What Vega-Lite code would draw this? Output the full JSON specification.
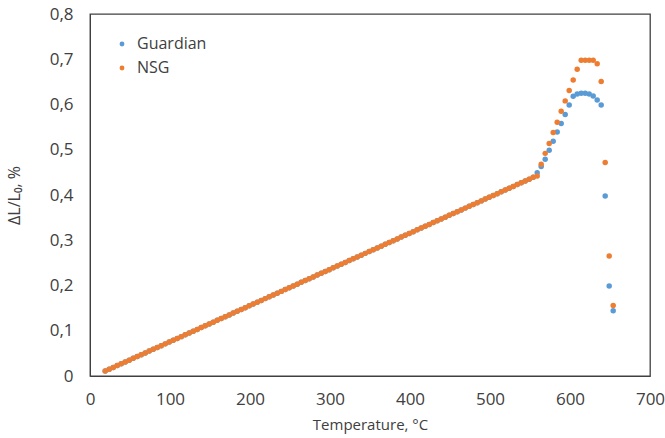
{
  "$schema": "https://vega.github.io/schema/vega-lite/v6.json",
  "autosize": "none",
  "width": 560,
  "height": 362,
  "padding": {"left": 90, "top": 14, "right": 15, "bottom": 62},
  "background": "white",
  "config": {
    "font": "Open Sans",
    "view": {"stroke": "#404040", "strokeWidth": 1.3},
    "axis": {"labelFont": "Open Sans", "titleFont": "Open Sans", "labelColor": "#404040", "titleColor": "#404040", "labelFontSize": 17, "titleFontSize": 15, "titleFontWeight": "normal", "grid": false, "ticks": false, "domainColor": "#404040", "labelFlush": false, "labelOverlap": false},
    "legend": {"labelFont": "Open Sans", "labelFontSize": 16, "labelColor": "#404040"}
  },
  "data": {"values": [
    {"T":19,"G":0.011,"N":0.011},{"T":24,"G":0.015,"N":0.015},{"T":29,"G":0.019,"N":0.019},{"T":34,"G":0.023,"N":0.023},{"T":39,"G":0.027,"N":0.027},
    {"T":44,"G":0.031,"N":0.031},{"T":49,"G":0.035,"N":0.035},{"T":54,"G":0.039,"N":0.039},{"T":59,"G":0.043,"N":0.043},{"T":64,"G":0.047,"N":0.047},
    {"T":69,"G":0.051,"N":0.051},{"T":74,"G":0.055,"N":0.055},{"T":79,"G":0.059,"N":0.059},{"T":84,"G":0.063,"N":0.063},{"T":89,"G":0.067,"N":0.067},
    {"T":94,"G":0.071,"N":0.071},{"T":99,"G":0.075,"N":0.075},{"T":104,"G":0.079,"N":0.079},{"T":109,"G":0.083,"N":0.083},{"T":114,"G":0.087,"N":0.087},
    {"T":119,"G":0.091,"N":0.091},{"T":124,"G":0.095,"N":0.095},{"T":129,"G":0.099,"N":0.099},{"T":134,"G":0.103,"N":0.103},{"T":139,"G":0.107,"N":0.107},
    {"T":144,"G":0.111,"N":0.111},{"T":149,"G":0.115,"N":0.115},{"T":154,"G":0.119,"N":0.119},{"T":159,"G":0.123,"N":0.123},{"T":164,"G":0.127,"N":0.127},
    {"T":169,"G":0.131,"N":0.131},{"T":174,"G":0.135,"N":0.135},{"T":179,"G":0.139,"N":0.139},{"T":184,"G":0.143,"N":0.143},{"T":189,"G":0.147,"N":0.147},
    {"T":194,"G":0.151,"N":0.151},{"T":199,"G":0.155,"N":0.155},{"T":204,"G":0.159,"N":0.159},{"T":209,"G":0.163,"N":0.163},{"T":214,"G":0.167,"N":0.167},
    {"T":219,"G":0.171,"N":0.171},{"T":224,"G":0.175,"N":0.175},{"T":229,"G":0.179,"N":0.179},{"T":234,"G":0.183,"N":0.183},{"T":239,"G":0.187,"N":0.187},
    {"T":244,"G":0.191,"N":0.191},{"T":249,"G":0.195,"N":0.195},{"T":254,"G":0.199,"N":0.199},{"T":259,"G":0.203,"N":0.203},{"T":264,"G":0.207,"N":0.207},
    {"T":269,"G":0.211,"N":0.211},{"T":274,"G":0.215,"N":0.215},{"T":279,"G":0.219,"N":0.219},{"T":284,"G":0.223,"N":0.223},{"T":289,"G":0.227,"N":0.227},
    {"T":294,"G":0.231,"N":0.231},{"T":299,"G":0.235,"N":0.235},{"T":304,"G":0.239,"N":0.239},{"T":309,"G":0.243,"N":0.243},{"T":314,"G":0.247,"N":0.247},
    {"T":319,"G":0.251,"N":0.251},{"T":324,"G":0.255,"N":0.255},{"T":329,"G":0.259,"N":0.259},{"T":334,"G":0.263,"N":0.263},{"T":339,"G":0.267,"N":0.267},
    {"T":344,"G":0.271,"N":0.271},{"T":349,"G":0.275,"N":0.275},{"T":354,"G":0.279,"N":0.279},{"T":359,"G":0.283,"N":0.283},{"T":364,"G":0.287,"N":0.287},
    {"T":369,"G":0.291,"N":0.291},{"T":374,"G":0.295,"N":0.295},{"T":379,"G":0.299,"N":0.299},{"T":384,"G":0.303,"N":0.303},{"T":389,"G":0.307,"N":0.307},
    {"T":394,"G":0.311,"N":0.311},{"T":399,"G":0.315,"N":0.315},{"T":404,"G":0.319,"N":0.319},{"T":409,"G":0.323,"N":0.323},{"T":414,"G":0.327,"N":0.327},
    {"T":419,"G":0.331,"N":0.331},{"T":424,"G":0.335,"N":0.335},{"T":429,"G":0.339,"N":0.339},{"T":434,"G":0.343,"N":0.343},{"T":439,"G":0.347,"N":0.347},
    {"T":444,"G":0.351,"N":0.351},{"T":449,"G":0.355,"N":0.355},{"T":454,"G":0.359,"N":0.359},{"T":459,"G":0.363,"N":0.363},{"T":464,"G":0.367,"N":0.367},
    {"T":469,"G":0.371,"N":0.371},{"T":474,"G":0.375,"N":0.375},{"T":479,"G":0.379,"N":0.379},{"T":484,"G":0.383,"N":0.383},{"T":489,"G":0.387,"N":0.387},
    {"T":494,"G":0.391,"N":0.391},{"T":499,"G":0.395,"N":0.395},{"T":504,"G":0.399,"N":0.399},{"T":509,"G":0.403,"N":0.403},{"T":514,"G":0.407,"N":0.407},
    {"T":519,"G":0.411,"N":0.411},{"T":524,"G":0.415,"N":0.415},{"T":529,"G":0.419,"N":0.419},{"T":534,"G":0.423,"N":0.423},{"T":539,"G":0.427,"N":0.427},
    {"T":544,"G":0.431,"N":0.431},{"T":549,"G":0.435,"N":0.435},{"T":554,"G":0.439,"N":0.439},
    {"T":559,"G":0.449,"N":0.442},{"T":564,"G":0.463,"N":0.468},{"T":569,"G":0.479,"N":0.492},{"T":574,"G":0.499,"N":0.514},
    {"T":579,"G":0.519,"N":0.538},{"T":584,"G":0.539,"N":0.561},{"T":589,"G":0.558,"N":0.585},{"T":594,"G":0.578,"N":0.608},
    {"T":599,"G":0.599,"N":0.631},{"T":604,"G":0.618,"N":0.654},{"T":609,"G":0.623,"N":0.678},{"T":614,"G":0.625,"N":0.698},
    {"T":619,"G":0.625,"N":0.698},{"T":624,"G":0.623,"N":0.698},{"T":629,"G":0.619,"N":0.698},{"T":634,"G":0.610,"N":0.690},
    {"T":639,"G":0.599,"N":0.651},{"T":644,"G":0.398,"N":0.472},{"T":649,"G":0.199,"N":0.265},{"T":654,"G":0.144,"N":0.156}
  ]},
  "encoding": {
    "x": {"field": "T", "type": "quantitative", "scale": {"domain": [0, 700], "nice": false},
      "axis": {"values": [0,100,200,300,400,500,600,700], "title": "Temperature, °C", "labelPadding": 15, "titlePadding": 10}}
  },
  "layer": [
    {
      "mark": {"type": "point", "filled": true, "size": 30, "opacity": 1},
      "encoding": {
        "y": {"field": "G", "type": "quantitative", "scale": {"domain": [0, 0.8], "nice": false},
          "axis": {"values": [0,0.1,0.2,0.3,0.4,0.5,0.6,0.7,0.8], "title": "ΔL/L₀, %", "titleFontSize": 16, "labelPadding": 17, "titlePadding": 27,
            "labelExpr": "datum.value == 0 ? '0' : replace(format(datum.value, '.1f'), '.', ',')"}},
        "color": {"datum": "Guardian", "type": "nominal",
          "scale": {"domain": ["Guardian", "NSG"], "range": ["#5B9BD5", "#ED7D31"]},
          "legend": {"title": null, "orient": "none", "legendX": 24, "legendY": 22, "symbolSize": 24, "symbolType": "circle", "rowPadding": 8, "labelOffset": 7}}
      }
    },
    {
      "mark": {"type": "point", "filled": true, "size": 30, "opacity": 1},
      "encoding": {
        "y": {"field": "N", "type": "quantitative"},
        "color": {"datum": "NSG", "type": "nominal"}
      }
    }
  ]
}
